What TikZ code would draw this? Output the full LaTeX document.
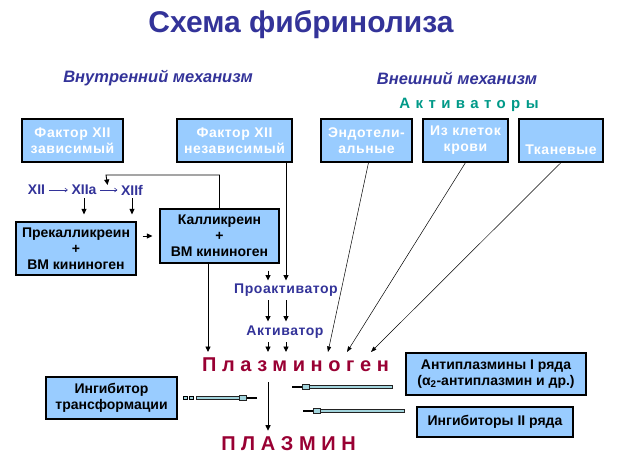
\documentclass[tikz,border=0pt]{standalone}
\usepackage{fontspec}
\setmainfont{Liberation Sans}
\newfontfamily\bxf[LetterSpace=4]{Liberation Sans}
\newfontfamily\spcred[LetterSpace=28]{Liberation Sans}
\newfontfamily\spcteal[LetterSpace=36]{Liberation Sans}
\usetikzlibrary{calc,arrows.meta}
\definecolor{tblue}{HTML}{333399}
\definecolor{tteal}{HTML}{009988}
\definecolor{tred}{HTML}{990033}
\definecolor{bfill}{HTML}{99CCFF}
\definecolor{barc}{HTML}{A2D4DC}
\definecolor{barl}{HTML}{222222}
\tikzset{
  box/.style={draw=black, line width=1.2pt, fill=bfill, align=center, inner sep=0pt, font=\bfseries\fontsize{14}{16}\selectfont},
  wbox/.style={box, text=white, font=\bxf\bfseries\fontsize{14}{16}\selectfont},
  lbl/.style={font=\bxf\bfseries\fontsize{14}{16}\selectfont, text=tblue, inner sep=2pt},
  chain/.style={font=\bfseries\fontsize{14}{16}\selectfont, text=tblue, inner sep=1pt},
  arr/.style={line width=0.9pt, -{Triangle[length=5.5pt,width=5pt]}},
  thinarr/.style={line width=0.5pt, -{Triangle[length=5.5pt,width=4pt]}},
  sarr/.style={tblue, line width=0.6pt, shorten <=2.5pt, shorten >=2.5pt, -{Straight Barb[length=2.5pt,width=4pt]}},
}
\newcommand{\inhib}[2]{%
  \draw[line width=4.2pt, barl] (#1) -- ($(#2)!12pt!(#1)$);
  \draw[line width=2.8pt, barc] ($(#1)!0.7pt!(#2)$) -- ($(#2)!12pt!(#1)$);
  \draw[line width=5.8pt, barl] ($(#2)!10pt!(#1)$) -- ($(#2)!18pt!(#1)$);
  \draw[line width=4.4pt, barc] ($(#2)!10.7pt!(#1)$) -- ($(#2)!17.3pt!(#1)$);
  \draw[line width=1.4pt] (#2) -- ($(#2)!10pt!(#1)$);
}
\begin{document}
\begin{tikzpicture}[x=1pt,y=-1pt]
\useasboundingbox (0,0) rectangle (618,460);
% titles
\node[font=\bfseries\fontsize{30}{32}\selectfont, text=tblue] (title) at (301,25) {Схема фибринолиза};
\node[font=\bfseries\itshape\fontsize{16.5}{18}\selectfont, text=tblue] (inner) at (158,78) {Внутренний механизм};
\node[font=\bfseries\itshape\fontsize{16.5}{18}\selectfont, text=tblue] (outer) at (457,78) {Внешний механизм};
\node[font=\spcteal\bfseries\fontsize{15}{16}\selectfont, text=tteal] (act) at (469,105) {Активаторы};
% top boxes
\node[wbox, minimum width=101pt, minimum height=43pt] (fz) at (72.5,140.5) {Фактор XII\\зависимый};
\node[wbox, minimum width=115pt, minimum height=43pt] (fn) at (234.5,140.5) {Фактор XII\\независимый};
\node[wbox, minimum width=91pt, minimum height=43pt] (en) at (366.5,140.5) {Эндотели-\\альные};
\node[wbox, minimum width=85pt, minimum height=43pt] (ik) at (465.5,140.5) {Из клеток\\крови};
\node[wbox, minimum width=84pt, minimum height=43pt] (tk) at (561,140.5) {\strut\\Тканевые};
% XII chain
\node[chain] (n12) at (36.5,190) {XII};
\node[chain] (n12a) at (84,190) {XIIa};
\node[chain] (n12f) at (132,190) {XIIf};
\draw[sarr] (n12) -- (n12a);
\draw[sarr] (n12a) -- (n12f) coordinate[pos=0.45] (mid);
% middle boxes
\node[box, minimum width=120pt, minimum height=53pt] (pk) at (76,248.5) {Прекалликреин\\+\\ВМ кининоген};
\node[box, minimum width=119pt, minimum height=54pt] (kl) at (219.5,236) {Калликреин\\+\\ВМ кининоген};
\draw[arr, shorten <=2pt, shorten >=7pt] (n12a.south) -- (n12a.south |- pk.north);
\draw[arr, shorten <=2pt, shorten >=7pt] (n12f.south) -- (n12f.south |- pk.north);
\draw[arr, shorten <=6pt, shorten >=7pt] (pk.east |- kl.west) -- (kl.west);
\coordinate (fb) at (106,175);
\draw[arr, shorten >=1pt] (kl.north) |- (fb) -- ($(mid)+(0,-4)$);
% proactivator chain
\node[lbl] (pa) at (286,290) {Проактиватор};
\node[lbl] (ac) at (285,332) {Активатор};
\node[font=\spcred\bfseries\fontsize{20}{22}\selectfont, text=tred, inner sep=0pt] (pg) at (295.5,365) {Плазминоген};
\node[font=\spcred\bfseries\fontsize{20}{22}\selectfont, text=tred, inner sep=0pt] (pl) at (288.5,444) {ПЛАЗМИН};
\coordinate (ca) at (268,0);
\coordinate (cb) at (286,0);
\coordinate (pgtop) at (0,352);
\draw[arr, shorten <=7pt, shorten >=1pt] (ca |- kl.south) -- (ca |- pa.north);
\draw[arr, shorten >=1pt] (cb |- fn.south) -- (cb |- pa.north);
\draw[arr, shorten <=2pt, shorten >=2pt] (ca |- pa.south) -- (ca |- ac.north);
\draw[arr, shorten <=2pt, shorten >=2pt] (cb |- pa.south) -- (cb |- ac.north);
\draw[arr, shorten <=2pt] (ca |- ac.south) -- (ca |- pgtop);
\draw[arr, shorten <=2pt] (cb |- ac.south) -- (cb |- pgtop);
\draw[arr] ([xshift=-11.5pt]kl.south) -- ([xshift=-11.5pt]kl.south |- pgtop);
% external activators
\coordinate (t1) at (328,352);
\coordinate (t2) at (347,352);
\coordinate (t3) at (371,352);
\draw[thinarr] ([xshift=2pt]en.south) -- (t1);
\draw[thinarr] (ik.south) -- (t2);
\draw[thinarr] (tk.south) -- (t3);
% plasminogen -> plasmin
\draw[arr, shorten <=10pt, shorten >=6pt] (ca |- pg.south) -- (ca |- pl.north);
% inhibitor boxes
\node[box, minimum width=180pt, minimum height=42pt] (ap) at (496,374) {Антиплазмины I ряда\\(α\textsubscript{2}-антиплазмин и др.)};
\node[box, minimum width=156pt, minimum height=30pt] (i2) at (495,422) {Ингибиторы II ряда};
\node[box, minimum width=131pt, minimum height=42pt] (it) at (111.5,398) {Ингибитор\\трансформации};
% inhibitor arrows
\coordinate (la) at (196,398);
\coordinate (lb) at (257,398);
\draw[line width=0.7pt, fill=barc] (183,396.5) rectangle (187,399.5);
\draw[line width=0.7pt, fill=barc] (189,396.5) rectangle (193,399.5);
\inhib{la}{lb}
\coordinate (ra) at (393,387);
\coordinate (rb) at (292,387);
\inhib{ra}{rb}
\coordinate (sa) at (405,411);
\coordinate (sb) at (303,411);
\inhib{sa}{sb}
\end{tikzpicture}
\end{document}
